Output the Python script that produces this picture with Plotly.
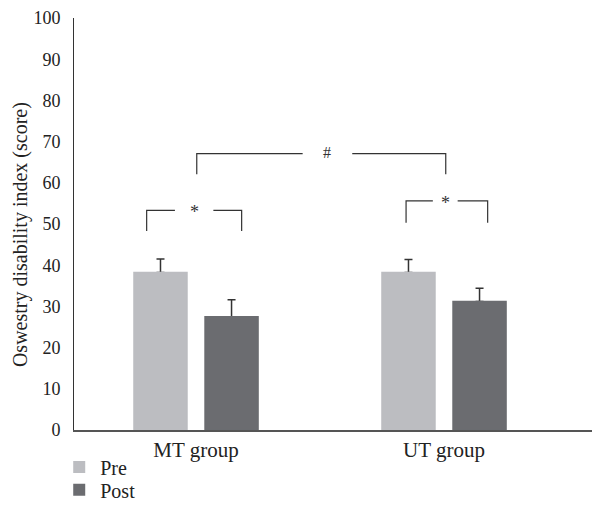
import plotly.graph_objects as go

groups = ["MT group", "UT group"]
group_pos = [0, 1]
pre_values = [38.2, 38.2]
pre_err = [3.3, 3.2]
post_values = [27.5, 31.2]
post_err = [4.1, 3.2]
y_ticks = [0, 10, 20, 30, 40, 50, 60, 70, 80, 90, 100]
y_title = "Oswestry disability index (score)"

# significance brackets: (x_left, x_right, y_top, y_bottom, label, gap_left, gap_right)
brackets = [
    (0.003, 1.007, 67.1, 62.1, "#", 0.43, 0.63),
    (-0.199, 0.184, 53.3, 48.3, "*", -0.085, 0.07),
    (0.847, 1.176, 55.6, 50.3, "*", 0.955, 1.055),
]

FONT = "Liberation Serif"
pre_color = "#bcbdc1"
post_color = "#6b6c70"
err_style = dict(color="#333333", thickness=1.5, width=4)


def add_bars(values, errs, name, color, with_err, legend):
    kw = {}
    if with_err:
        kw["error_y"] = dict(type="data", symmetric=False, array=errs,
                             arrayminus=[0] * len(errs), **err_style)
        line = dict(width=0)
    else:
        line = dict(width=1.5, color=color)
    fig.add_trace(go.Bar(x=group_pos, y=values, name=name, offsetgroup=name,
                         marker=dict(color=color, line=line),
                         showlegend=legend is not None, legend=legend or "legend", **kw))


fig = go.Figure()
add_bars(pre_values, pre_err, "Pre", pre_color, True, "legend")
add_bars(post_values, post_err, "Post", post_color, True, "legend2")
# repaint bar bodies so only the upper half of each error bar shows
add_bars(pre_values, pre_err, "Pre", pre_color, False, None)
add_bars(post_values, post_err, "Post", post_color, False, None)

line_style = dict(color="#333333", width=1.2)
for xl, xr, yt, yb, lab, gl, gr in brackets:
    fig.add_shape(type="path", xref="x", yref="y",
                  path=f"M {xl} {yb} L {xl} {yt} L {gl} {yt}", line=line_style)
    fig.add_shape(type="path", xref="x", yref="y",
                  path=f"M {gr} {yt} L {xr} {yt} L {xr} {yb}", line=line_style)
    fig.add_annotation(x=(gl + gr) / 2, y=yt, text=lab, showarrow=False, xref="x", yref="y",
                       font=dict(family=FONT, size=18 if lab == "*" else 16, color="#333"),
                       yshift=1 if lab == "#" else -2)

fig.add_annotation(text=y_title, textangle=-90, showarrow=False, xref="paper", yref="paper",
                   x=-0.1015, y=0.4746, xanchor="center", yanchor="middle",
                   font=dict(family=FONT, size=20, color="#222"))

legend_common = dict(orientation="v", x=-0.030, xanchor="left", yanchor="middle",
                     font=dict(family=FONT, size=20, color="#222"), itemwidth=32,
                     bgcolor="rgba(0,0,0,0)")

fig.update_layout(
    width=600, height=532,
    margin=dict(l=66, r=8, t=10, b=110),
    plot_bgcolor="white", paper_bgcolor="white",
    barmode="group", bargap=0.427, bargroupgap=0.254,
    font=dict(family=FONT, size=18, color="#222"),
    showlegend=True,
    legend=dict(y=-0.0896, **legend_common),
    legend2=dict(y=-0.145, **legend_common),
    xaxis=dict(range=[-0.492, 1.629], tickvals=group_pos, ticktext=groups,
               showline=True, linecolor="#555", linewidth=1.5, showgrid=False,
               zeroline=False, ticks="", automargin=False,
               tickfont=dict(family=FONT, size=21, color="#222")),
    yaxis=dict(range=[0, 100], tickvals=y_ticks, showline=True, linecolor="#333",
               linewidth=1, showgrid=False, zeroline=False, ticks="",
               ticklabelstandoff=9, automargin=False,
               tickfont=dict(family=FONT, size=18, color="#222")),
)

fig.write_html("out.html")
